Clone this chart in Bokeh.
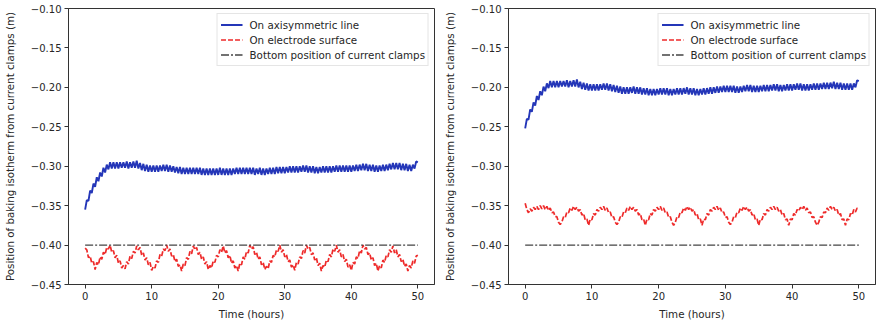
import numpy as np
from bokeh.plotting import figure
from bokeh.layouts import row
from bokeh.models import FixedTicker, CustomJSTickFormatter, Range1d, Legend, LegendItem
from bokeh.embed import file_html
from bokeh.resources import INLINE

# ---------------- data ----------------
time_h = np.linspace(0, 50, 201)          # sample times, 0.25 h apart
clamp_time = [0, 50]
clamp_bottom = [-0.40, -0.40]              # bottom position of current clamps

left_axis = [
    -0.355, -0.343, -0.344, -0.331,
    -0.334, -0.322, -0.326, -0.314,
    -0.319, -0.308, -0.313, -0.302,
    -0.308, -0.298, -0.304, -0.295,
    -0.303, -0.295, -0.303, -0.295,
    -0.303, -0.295, -0.302, -0.295,
    -0.302, -0.294, -0.303, -0.295,
    -0.302, -0.294, -0.302, -0.293,
    -0.303, -0.296, -0.305, -0.297,
    -0.306, -0.298, -0.307, -0.299,
    -0.307, -0.299, -0.307, -0.299,
    -0.307, -0.299, -0.306, -0.298,
    -0.306, -0.298, -0.307, -0.299,
    -0.307, -0.300, -0.308, -0.301,
    -0.309, -0.301, -0.310, -0.302,
    -0.310, -0.302, -0.310, -0.302,
    -0.310, -0.302, -0.310, -0.302,
    -0.310, -0.302, -0.311, -0.303,
    -0.311, -0.303, -0.311, -0.303,
    -0.311, -0.303, -0.311, -0.303,
    -0.311, -0.302, -0.311, -0.303,
    -0.311, -0.303, -0.311, -0.303,
    -0.311, -0.303, -0.310, -0.302,
    -0.310, -0.302, -0.310, -0.302,
    -0.310, -0.302, -0.310, -0.302,
    -0.310, -0.302, -0.311, -0.303,
    -0.310, -0.302, -0.311, -0.303,
    -0.311, -0.303, -0.310, -0.302,
    -0.310, -0.302, -0.310, -0.301,
    -0.309, -0.301, -0.309, -0.301,
    -0.309, -0.301, -0.308, -0.300,
    -0.308, -0.300, -0.308, -0.300,
    -0.308, -0.300, -0.307, -0.299,
    -0.307, -0.299, -0.308, -0.300,
    -0.308, -0.300, -0.309, -0.301,
    -0.309, -0.301, -0.308, -0.300,
    -0.308, -0.300, -0.308, -0.300,
    -0.308, -0.300, -0.307, -0.299,
    -0.307, -0.299, -0.307, -0.299,
    -0.307, -0.299, -0.307, -0.299,
    -0.307, -0.299, -0.306, -0.298,
    -0.306, -0.298, -0.305, -0.297,
    -0.305, -0.297, -0.306, -0.298,
    -0.306, -0.298, -0.307, -0.299,
    -0.307, -0.299, -0.306, -0.298,
    -0.306, -0.298, -0.305, -0.297,
    -0.304, -0.296, -0.304, -0.296,
    -0.304, -0.296, -0.305, -0.297,
    -0.305, -0.297, -0.306, -0.298,
    -0.306, -0.298, -0.303, -0.294,
    -0.295,
]

left_surface = [
    -0.404, -0.406, -0.416, -0.414,
    -0.423, -0.421, -0.431, -0.422,
    -0.425, -0.415, -0.418, -0.409,
    -0.412, -0.403, -0.405, -0.400,
    -0.409, -0.407, -0.416, -0.413,
    -0.423, -0.420, -0.429, -0.426,
    -0.430, -0.421, -0.424, -0.414,
    -0.417, -0.408, -0.410, -0.401,
    -0.406, -0.403, -0.413, -0.410,
    -0.419, -0.416, -0.425, -0.422,
    -0.432, -0.427, -0.429, -0.420,
    -0.422, -0.412, -0.414, -0.405,
    -0.407, -0.400, -0.408, -0.405,
    -0.414, -0.412, -0.421, -0.418,
    -0.427, -0.425, -0.433, -0.424,
    -0.426, -0.416, -0.418, -0.408,
    -0.411, -0.401, -0.406, -0.403,
    -0.412, -0.409, -0.418, -0.415,
    -0.424, -0.421, -0.431, -0.426,
    -0.429, -0.420, -0.422, -0.413,
    -0.415, -0.406, -0.409, -0.401,
    -0.410, -0.407, -0.416, -0.413,
    -0.423, -0.420, -0.429, -0.426,
    -0.433, -0.423, -0.425, -0.415,
    -0.418, -0.408, -0.410, -0.400,
    -0.405, -0.402, -0.412, -0.409,
    -0.418, -0.415, -0.425, -0.422,
    -0.431, -0.427, -0.430, -0.420,
    -0.422, -0.413, -0.415, -0.406,
    -0.408, -0.400, -0.409, -0.406,
    -0.415, -0.412, -0.421, -0.419,
    -0.428, -0.425, -0.432, -0.422,
    -0.424, -0.415, -0.417, -0.407,
    -0.410, -0.400, -0.405, -0.403,
    -0.412, -0.410, -0.419, -0.416,
    -0.426, -0.423, -0.433, -0.426,
    -0.428, -0.419, -0.421, -0.412,
    -0.415, -0.405, -0.408, -0.400,
    -0.409, -0.406, -0.415, -0.412,
    -0.421, -0.418, -0.428, -0.425,
    -0.432, -0.422, -0.424, -0.415,
    -0.417, -0.407, -0.410, -0.400,
    -0.405, -0.403, -0.412, -0.410,
    -0.419, -0.416, -0.426, -0.423,
    -0.433, -0.426, -0.429, -0.419,
    -0.422, -0.413, -0.415, -0.406,
    -0.409, -0.401, -0.410, -0.406,
    -0.415, -0.412, -0.421, -0.418,
    -0.427, -0.424, -0.433, -0.426,
    -0.429, -0.420, -0.423, -0.414,
    -0.413,
]

right_axis = [
    -0.252, -0.240, -0.241, -0.228,
    -0.231, -0.219, -0.223, -0.211,
    -0.216, -0.205, -0.210, -0.199,
    -0.205, -0.195, -0.201, -0.192,
    -0.200, -0.192, -0.200, -0.192,
    -0.200, -0.192, -0.199, -0.192,
    -0.199, -0.191, -0.200, -0.192,
    -0.199, -0.191, -0.199, -0.190,
    -0.200, -0.193, -0.202, -0.194,
    -0.203, -0.195, -0.204, -0.196,
    -0.204, -0.196, -0.204, -0.196,
    -0.204, -0.196, -0.203, -0.195,
    -0.203, -0.195, -0.204, -0.196,
    -0.205, -0.197, -0.206, -0.198,
    -0.207, -0.199, -0.208, -0.200,
    -0.208, -0.200, -0.208, -0.200,
    -0.207, -0.199, -0.208, -0.200,
    -0.208, -0.200, -0.209, -0.201,
    -0.209, -0.201, -0.210, -0.202,
    -0.210, -0.202, -0.210, -0.202,
    -0.209, -0.201, -0.209, -0.201,
    -0.209, -0.201, -0.210, -0.202,
    -0.210, -0.202, -0.209, -0.201,
    -0.209, -0.201, -0.209, -0.201,
    -0.208, -0.200, -0.209, -0.201,
    -0.209, -0.201, -0.210, -0.202,
    -0.210, -0.202, -0.209, -0.201,
    -0.209, -0.201, -0.208, -0.200,
    -0.208, -0.200, -0.207, -0.199,
    -0.207, -0.199, -0.206, -0.198,
    -0.206, -0.198, -0.206, -0.198,
    -0.206, -0.198, -0.207, -0.199,
    -0.207, -0.199, -0.206, -0.198,
    -0.205, -0.197, -0.205, -0.197,
    -0.206, -0.198, -0.206, -0.198,
    -0.206, -0.198, -0.205, -0.197,
    -0.205, -0.197, -0.205, -0.197,
    -0.204, -0.196, -0.204, -0.196,
    -0.205, -0.197, -0.205, -0.197,
    -0.204, -0.196, -0.204, -0.196,
    -0.204, -0.196, -0.203, -0.195,
    -0.203, -0.195, -0.204, -0.196,
    -0.204, -0.196, -0.204, -0.196,
    -0.203, -0.195, -0.203, -0.195,
    -0.203, -0.195, -0.202, -0.194,
    -0.202, -0.194, -0.202, -0.194,
    -0.201, -0.193, -0.202, -0.194,
    -0.202, -0.194, -0.203, -0.195,
    -0.203, -0.195, -0.203, -0.195,
    -0.203, -0.195, -0.200, -0.191,
    -0.192,
]

right_surface = [
    -0.347, -0.355, -0.359, -0.354,
    -0.357, -0.352, -0.355, -0.351,
    -0.355, -0.350, -0.354, -0.350,
    -0.355, -0.351, -0.356, -0.353,
    -0.359, -0.358, -0.364, -0.364,
    -0.371, -0.374, -0.371, -0.364,
    -0.365, -0.358, -0.359, -0.353,
    -0.356, -0.351, -0.355, -0.352,
    -0.357, -0.355, -0.362, -0.360,
    -0.368, -0.367, -0.375, -0.367,
    -0.368, -0.360, -0.362, -0.355,
    -0.357, -0.352, -0.355, -0.351,
    -0.356, -0.353, -0.359, -0.358,
    -0.365, -0.364, -0.371, -0.374,
    -0.371, -0.364, -0.365, -0.358,
    -0.359, -0.353, -0.356, -0.351,
    -0.355, -0.352, -0.357, -0.355,
    -0.362, -0.360, -0.368, -0.367,
    -0.375, -0.367, -0.368, -0.360,
    -0.362, -0.355, -0.357, -0.352,
    -0.355, -0.351, -0.356, -0.353,
    -0.359, -0.358, -0.365, -0.364,
    -0.371, -0.375, -0.371, -0.364,
    -0.365, -0.358, -0.359, -0.353,
    -0.356, -0.351, -0.355, -0.352,
    -0.357, -0.355, -0.362, -0.360,
    -0.368, -0.367, -0.375, -0.367,
    -0.368, -0.360, -0.362, -0.355,
    -0.357, -0.352, -0.355, -0.351,
    -0.356, -0.353, -0.359, -0.358,
    -0.365, -0.364, -0.371, -0.374,
    -0.371, -0.364, -0.365, -0.358,
    -0.359, -0.353, -0.356, -0.351,
    -0.355, -0.352, -0.357, -0.355,
    -0.362, -0.360, -0.368, -0.367,
    -0.375, -0.367, -0.368, -0.360,
    -0.362, -0.355, -0.357, -0.352,
    -0.355, -0.351, -0.355, -0.352,
    -0.357, -0.355, -0.362, -0.360,
    -0.368, -0.367, -0.375, -0.367,
    -0.368, -0.360, -0.362, -0.355,
    -0.357, -0.352, -0.355, -0.351,
    -0.356, -0.353, -0.359, -0.358,
    -0.365, -0.364, -0.371, -0.375,
    -0.371, -0.364, -0.365, -0.358,
    -0.359, -0.353, -0.356, -0.351,
    -0.355, -0.352, -0.357, -0.355,
    -0.362, -0.360, -0.368, -0.367,
    -0.375, -0.367, -0.368, -0.360,
    -0.362, -0.355, -0.358, -0.353,
    -0.354,
]

x_ticks = [0, 10, 20, 30, 40, 50]
y_ticks = [-0.45, -0.40, -0.35, -0.30, -0.25, -0.20, -0.15, -0.10]
legend_labels = ["On axisymmetric line", "On electrode surface",
                 "Bottom position of current clamps"]

FONT = "DejaVu Sans"
TXT = "#262626"
BLUE = "#2436b8"
RED = "#ee2a2a"
DASHDOT = "#444444"


def make_panel(axis_vals, surface_vals, border_left, border_right):
    p = figure(width=438, height=325, output_backend="svg", toolbar_location=None,
               x_range=Range1d(-2.5, 52.5), y_range=Range1d(-0.45, -0.10),
               min_border_left=border_left, min_border_right=border_right,
               min_border_top=8, min_border_bottom=41)
    p.background_fill_color = "white"
    p.border_fill_color = "white"
    p.outline_line_color = "#333333"
    p.outline_line_width = 1
    p.xgrid.visible = False
    p.ygrid.visible = False

    t = time_h[:len(axis_vals)]
    r1 = p.line(t, axis_vals, line_color=BLUE, line_width=1.9)
    r2 = p.line(time_h[:len(surface_vals)], surface_vals, line_color=RED,
                line_width=1.7, line_dash="5 2")
    r3 = p.line(clamp_time, clamp_bottom, line_color=DASHDOT, line_width=1.3,
                line_dash="8 2 2 2")

    for ax in (p.xaxis[0], p.yaxis[0]):
        ax.axis_line_color = "#333333"
        ax.major_tick_line_color = "#333333"
        ax.major_tick_out = 4
        ax.major_tick_in = 0
        ax.minor_tick_line_color = None
        ax.major_label_text_font = FONT
        ax.major_label_text_font_size = "10px"
        ax.major_label_text_color = TXT
        ax.axis_label_text_font = FONT
        ax.axis_label_text_font_size = "10.3px"
        ax.axis_label_text_font_style = "normal"
        ax.axis_label_text_color = TXT
        ax.major_label_standoff = 3

    p.xaxis.ticker = FixedTicker(ticks=x_ticks)
    p.yaxis.ticker = FixedTicker(ticks=y_ticks)
    p.yaxis.formatter = CustomJSTickFormatter(
        code="return (tick < 0 ? '\u2212' : '') + Math.abs(tick).toFixed(2);")
    p.xaxis.axis_label = "Time (hours)"
    p.xaxis.axis_label_standoff = 5
    p.yaxis.axis_label = "Position of baking isotherm from current clamps (m)"
    p.yaxis.axis_label_standoff = 12

    legend = Legend(items=[LegendItem(label=legend_labels[0], renderers=[r1]),
                           LegendItem(label=legend_labels[1], renderers=[r2]),
                           LegendItem(label=legend_labels[2], renderers=[r3])],
                    location="top_right")
    legend.margin = 5
    legend.padding = 3
    legend.spacing = 0
    legend.glyph_width = 22
    legend.glyph_height = 15
    legend.label_height = 15
    legend.label_standoff = 7
    legend.label_text_font = FONT
    legend.label_text_font_size = "10.3px"
    legend.label_text_color = TXT
    legend.border_line_color = "#cccccc"
    legend.border_line_width = 1
    legend.background_fill_alpha = 0.85
    p.add_layout(legend, "center")
    return p


p_left = make_panel(left_axis, left_surface, 67, 4)
p_right = make_panel(right_axis, right_surface, 70, 1)
layout = row(p_left, p_right)

open("out.html", "w").write(file_html(layout, INLINE))
